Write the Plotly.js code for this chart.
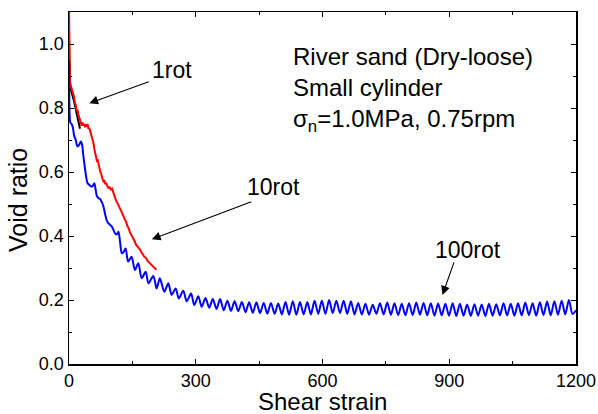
<!DOCTYPE html>
<html>
<head>
<meta charset="utf-8">
<script src="https://cdn.plot.ly/plotly-3.0.1.min.js"></script>
<style>html,body{margin:0;padding:0;background:#fff;}#chart{width:598px;height:414px;}</style>
</head>
<body>
<div id="chart"></div>
<script>
// 1 rotation (black)
const strain1rot = [0, 1, 2, 4, 6, 9, 12, 15, 18, 21, 24, 26];
const void1rot   = [1.02, 0.92, 0.88, 0.86, 0.845, 0.835, 0.82, 0.80, 0.785, 0.77, 0.75, 0.735];

// 10 rotations (red)
const strain10rot = [0, 0.5, 1, 2, 4, 7, 10, 12, 14, 16, 18, 20, 22, 24, 26, 28, 30, 32, 34, 36, 38, 40, 42, 44, 46, 48, 50, 52, 54, 56, 58, 60, 62, 64, 66, 68, 70, 72, 74, 76, 78, 80, 82, 84, 86, 88, 90, 93, 96, 99, 102, 105, 108, 111, 114, 117, 120, 123, 126, 129, 132, 135, 138, 141, 144, 147, 150, 153, 156, 159, 162, 165, 168, 171, 174, 177, 180, 183, 186, 189, 192, 195, 198, 201, 204, 207];
const void10rot   = [1.12, 1.0, 0.93, 0.89, 0.87, 0.855, 0.84, 0.835, 0.815, 0.81, 0.79, 0.795, 0.78, 0.77, 0.765, 0.75, 0.745, 0.755, 0.745, 0.75, 0.74, 0.748, 0.742, 0.75, 0.735, 0.738, 0.728, 0.725, 0.712, 0.705, 0.69, 0.672, 0.655, 0.648, 0.635, 0.637, 0.62, 0.612, 0.60, 0.595, 0.578, 0.575, 0.57, 0.572, 0.562, 0.566, 0.558, 0.55, 0.552, 0.545, 0.548, 0.535, 0.525, 0.512, 0.505, 0.497, 0.488, 0.482, 0.47, 0.462, 0.452, 0.445, 0.432, 0.425, 0.412, 0.405, 0.398, 0.388, 0.382, 0.372, 0.368, 0.365, 0.358, 0.35, 0.342, 0.338, 0.334, 0.33, 0.322, 0.318, 0.314, 0.31, 0.305, 0.30, 0.298, 0.294];

// 100 rotations (blue)
const strain100rot = [0, 0.5, 1.5, 3, 6, 9, 12, 16, 20, 24, 28, 31, 34, 37, 40, 44, 48, 52, 56, 60, 63, 66, 70, 74, 78, 82, 85, 89, 93, 97, 101, 105, 109, 113, 117, 121, 125, 129, 134, 140, 148, 156, 164, 172, 181.5, 188, 199.5, 207.5, 215, 225.5, 235, 243, 252.5, 260, 270.5, 278.5, 289, 296.5, 306, 314,
  323.2, 331.8, 340.4, 349, 357.6, 366.2, 374.8, 383.4, 392, 400.6, 409.2, 417.8, 426.4, 435, 443.6, 452.2, 460.8, 469.4, 478, 486.6, 495.2, 503.8, 512.4, 521, 529.6, 538.2, 546.8, 555.4, 564, 572.6, 581.2, 589.8, 598.4, 607, 615.6, 624.2, 632.8, 641.4, 650, 658.6, 667.2, 675.8, 684.4, 693, 701.6, 710.2, 718.8, 727.4, 736, 744.6, 753.2, 761.8, 770.4, 779, 787.6, 796.2, 804.8, 813.4, 822, 830.6, 839.2, 847.8, 856.4, 865, 873.6, 882.2, 890.8, 899.4, 908, 916.6, 925.2, 933.8, 942.4, 951, 959.6, 968.2, 976.8, 985.4, 994, 1002.6, 1011.2, 1019.8, 1028.4, 1037, 1045.6, 1054.2, 1062.8, 1071.4, 1080, 1088.6, 1097.2, 1105.8, 1114.4, 1123, 1131.6, 1140.2, 1148.8, 1157.4, 1166, 1174.6, 1183.2, 1191.8, 1200];
const void100rot   = [0.95, 0.86, 0.78, 0.755, 0.75, 0.74, 0.715, 0.70, 0.68, 0.685, 0.695, 0.685, 0.65, 0.62, 0.59, 0.565, 0.56, 0.555, 0.556, 0.565, 0.545, 0.525, 0.518, 0.515, 0.505, 0.49, 0.471, 0.45, 0.44, 0.435, 0.43, 0.42, 0.408, 0.405, 0.413, 0.38, 0.346, 0.35, 0.361, 0.32, 0.335, 0.294, 0.315, 0.268, 0.288, 0.252, 0.275, 0.236, 0.268, 0.226, 0.252, 0.216, 0.236, 0.205, 0.229, 0.196, 0.22, 0.184, 0.212, 0.179,
  0.206, 0.176, 0.203, 0.172, 0.203, 0.168, 0.198, 0.166, 0.196, 0.165, 0.194, 0.162, 0.193, 0.160, 0.193, 0.159, 0.191, 0.157, 0.191, 0.157, 0.189, 0.155, 0.194, 0.154, 0.196, 0.154, 0.194, 0.155, 0.194, 0.155, 0.198, 0.157, 0.198, 0.157, 0.200, 0.159, 0.198, 0.159, 0.198, 0.157, 0.196, 0.155, 0.191, 0.155, 0.188, 0.154, 0.185, 0.157, 0.190, 0.155, 0.192, 0.154, 0.190, 0.153, 0.188, 0.152, 0.190, 0.153, 0.192, 0.154, 0.191, 0.152, 0.190, 0.151, 0.189, 0.152, 0.188, 0.151, 0.190, 0.150, 0.188, 0.151, 0.186, 0.150, 0.187, 0.151, 0.186, 0.150, 0.188, 0.151, 0.187, 0.152, 0.190, 0.152, 0.188, 0.151, 0.190, 0.152, 0.192, 0.153, 0.190, 0.151, 0.193, 0.153, 0.195, 0.152, 0.196, 0.154, 0.198, 0.155, 0.200, 0.156, 0.168];

const xTicks = [0, 300, 600, 900, 1200];
const yTicks = [0.0, 0.2, 0.4, 0.6, 0.8, 1.0];
const yTickText = ['0.0', '0.2', '0.4', '0.6', '0.8', '1.0'];

const FONT = 'Arial, "Liberation Sans", sans-serif';

const traces = [
  {x: strain1rot, y: void1rot, mode: 'lines', line: {color: '#000000', width: 2}, showlegend: false, hoverinfo: 'skip'},
  {x: strain10rot, y: void10rot, mode: 'lines', line: {color: '#ff0000', width: 2}, showlegend: false, hoverinfo: 'skip'},
  {x: strain100rot, y: void100rot, mode: 'lines', line: {color: '#0000ff', width: 2, shape: 'spline', smoothing: 0.8}, showlegend: false, hoverinfo: 'skip'}
];

const axisCommon = {
  showline: true, linecolor: '#000', linewidth: 1.5, mirror: 'allticks',
  ticks: 'inside', ticklen: 5, tickwidth: 1, tickcolor: '#000',
  showgrid: false, zeroline: false,
  tickfont: {family: FONT, size: 18, color: '#000'}
};

const layout = {
  width: 598, height: 414,
  margin: {l: 69, r: 22, t: 12, b: 50, pad: 0},
  paper_bgcolor: '#fff', plot_bgcolor: '#fff',
  font: {family: FONT, color: '#000'},
  xaxis: Object.assign({}, axisCommon, {
    range: [0, 1200], tickvals: xTicks, ticktext: xTicks.map(String),
    minor: {dtick: 150, tick0: 0, ticks: 'inside', ticklen: 3, tickcolor: '#000', showgrid: false}
  }),
  yaxis: Object.assign({}, axisCommon, {
    range: [0, 1.1], tickvals: yTicks, ticktext: yTickText,
    minor: {dtick: 0.1, tick0: 0, ticks: 'inside', ticklen: 3, tickcolor: '#000', showgrid: false}
  }),
  annotations: [
    {xref: 'paper', yref: 'paper', x: 0.5, y: -0.107, xanchor: 'center', yanchor: 'middle', showarrow: false,
     text: 'Shear strain', font: {family: FONT, size: 24, color: '#000'}},
    {xref: 'paper', yref: 'paper', x: -0.1006, y: 0.466, xanchor: 'center', yanchor: 'middle', showarrow: false, textangle: -90,
     text: 'Void ratio', font: {family: FONT, size: 25, color: '#000'}},
    {xref: 'paper', yref: 'paper', x: 0.438, y: 0.917, xanchor: 'left', yanchor: 'top', align: 'left', showarrow: false,
     text: 'River sand (Dry-loose)<br>Small cylinder<br>σ<sub>n</sub>=1.0MPa, 0.75rpm',
     font: {family: FONT, size: 24, color: '#000'}},
    {x: 48, y: 0.815, ax: 61, ay: -22, text: '', showarrow: true, arrowhead: 2, arrowsize: 1.6, arrowwidth: 1.1, arrowcolor: '#000'},
    {x: 244, y: 0.919, text: '1rot', showarrow: false, font: {family: FONT, size: 23, color: '#000'}},
    {x: 196, y: 0.39, ax: 101, ay: -38, text: '', showarrow: true, arrowhead: 2, arrowsize: 1.6, arrowwidth: 1.1, arrowcolor: '#000'},
    {x: 483, y: 0.553, text: '10rot', showarrow: false, font: {family: FONT, size: 23, color: '#000'}},
    {x: 884, y: 0.216, ax: 12, ay: -34, text: '', showarrow: true, arrowhead: 2, arrowsize: 1.6, arrowwidth: 1.1, arrowcolor: '#000'},
    {x: 944, y: 0.356, text: '100rot', showarrow: false, font: {family: FONT, size: 23, color: '#000'}}
  ]
};

Plotly.newPlot('chart', traces, layout, {staticPlot: true, displayModeBar: false});
</script>
</body>
</html>
